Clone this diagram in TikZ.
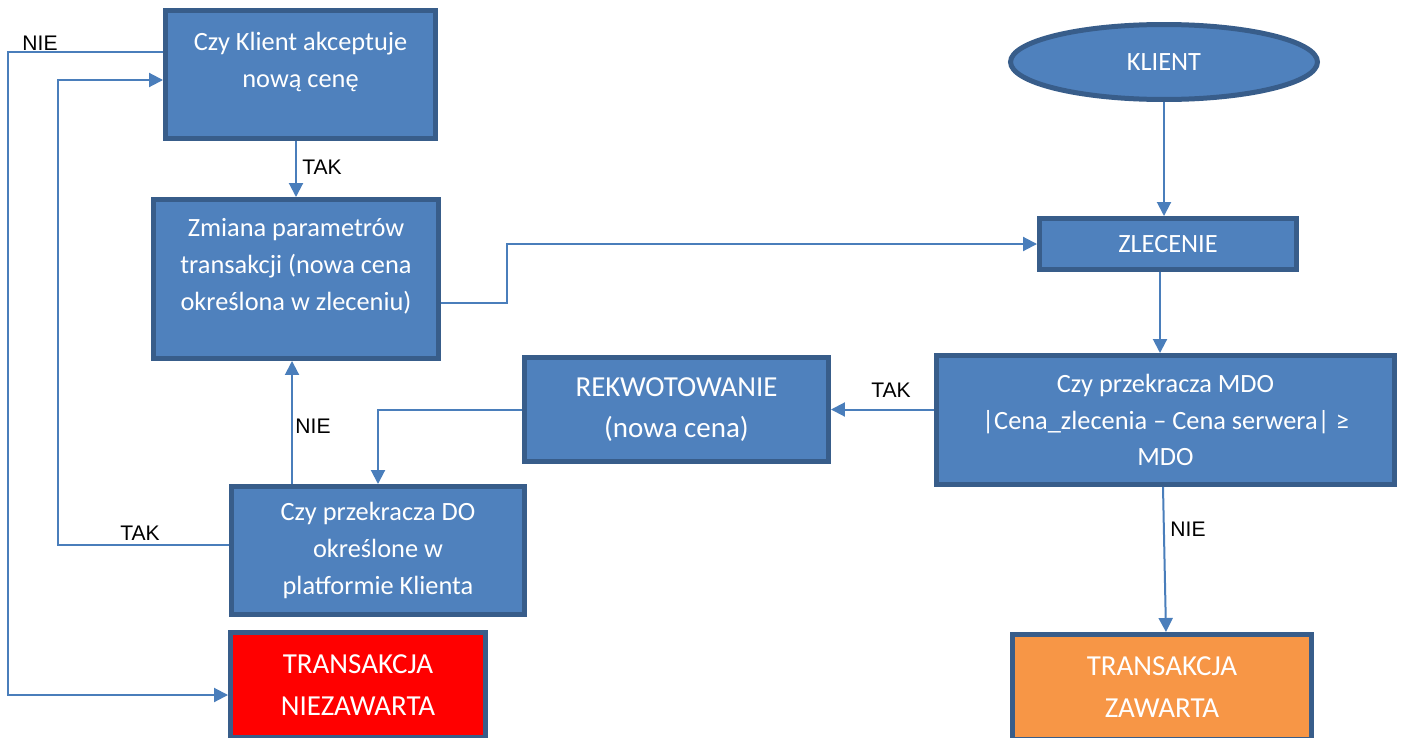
\documentclass[tikz,border=0pt]{standalone}
\usepackage{fontspec}
\setmainfont{Carlito}
\newfontfamily\lblfont{Liberation Sans}
\usetikzlibrary{arrows.meta,positioning,calc,shapes.geometric}

\definecolor{boxfill}{HTML}{4F81BD}
\definecolor{boxline}{HTML}{385D8A}
\definecolor{connline}{HTML}{4A7EBB}
\definecolor{okfill}{HTML}{F79646}

\tikzset{
  stepbox/.style={draw=boxline, line width=1mm, fill=boxfill, text=white,
    align=center, inner sep=0pt, font=\fontsize{15}{21}\selectfont},
  bigbox/.style={stepbox, font=\fontsize{16.5}{23.5}\selectfont},
  raised/.style={text depth=17pt},
  conn/.style={draw=connline, line width=0.4mm, -{Triangle[length=2.8mm, width=2.8mm]}},
  lbl/.style={font=\lblfont\fontsize{12}{14}\selectfont, inner sep=0pt}
}

\begin{document}
\begin{tikzpicture}[x=0.02cm, y=-0.02cm]
  \clip (0,0) rectangle (1403,737);
  \fill[white] (0,0) rectangle (1403,737);
  % left column
  \node[stepbox, raised, minimum width=54mm, minimum height=25.6mm] (akcept) at (300.5,74.5)
    {Czy Klient akceptuje\\nową cenę};
  \node[stepbox, raised, minimum width=57mm, minimum height=31.8mm] (zmiana) at (296,279)
    {Zmiana parametrów\\transakcji (nowa cena\\określona w zleceniu)};
  \node[stepbox, minimum width=58.6mm, minimum height=25.6mm] (przekrDO) at (378,550.5)
    {Czy przekracza DO\\określone w\\platformie Klienta};
  \node[bigbox, fill=red, minimum width=51mm, minimum height=21mm] (niezawarta) at (358,685)
    {TRANSAKCJA\\NIEZAWARTA};
  % middle and right column
  \node[bigbox, minimum width=60.8mm, minimum height=20.8mm] (rekw) at (676.5,409.5)
    {REKWOTOWANIE\\(nowa cena)};
  \node[stepbox, ellipse, minimum width=61.4mm, minimum height=15mm] (klient) at (1164,62)
    {KLIENT};
  \node[stepbox, minimum width=51.4mm, minimum height=10.2mm] (zlecenie) at (1168,244)
    {ZLECENIE};
  \node[stepbox, minimum width=91.6mm, minimum height=25.8mm] (przekrMDO) at (1165.5,420)
    {Czy przekracza MDO\\{|}Cena\_zlecenia -- Cena serwera{|} ≥\\MDO};
  \node[bigbox, fill=okfill, minimum width=59.8mm, minimum height=21mm] (zawarta) at (1162,687)
    {TRANSAKCJA\\ZAWARTA};

  % connectors
  \draw[conn] (zmiana.north |- akcept.south) -- (zmiana.north);
  \draw[conn] ([yshift=4.5mm]akcept.west) -- ++(-155,0) |- ([yshift=-2mm]niezawarta.west);
  \draw[conn] ([yshift=1.1mm]przekrDO.west) -- ++(-171,0) |- ([yshift=-1.1mm]akcept.west);
  \coordinate (doUp) at ([xshift=-17.2mm]przekrDO.north);
  \draw[conn] (doUp) -- (doUp |- zmiana.south);
  \draw[conn] ([yshift=-4.8mm]zmiana.east) -- ++(66,0) |- (zlecenie.west);
  \draw[conn] (klient.south) -- (klient.south |- zlecenie.north);
  \draw[conn] ([xshift=-1.6mm]zlecenie.south) -- ([xshift=-1.6mm]zlecenie.south |- przekrMDO.north);
  \draw[conn] (przekrMDO.west |- rekw.east) -- (rekw.east);
  \draw[conn] (rekw.west) -| (przekrDO.north);
  \draw[conn] ([xshift=-0.5mm]przekrMDO.south) -- ([xshift=0.8mm]zawarta.north);

  % labels
  \node[lbl] (nieA) at (40,43) {NIE};
  \node[lbl] (takA) at (322,167) {TAK};
  \node[lbl] (nieDO) at (313,426) {NIE};
  \node[lbl] (takDO) at (140,533) {TAK};
  \node[lbl] (takMDO) at (891,390) {TAK};
  \node[lbl] (nieMDO) at (1188,529) {NIE};
\end{tikzpicture}
\end{document}
